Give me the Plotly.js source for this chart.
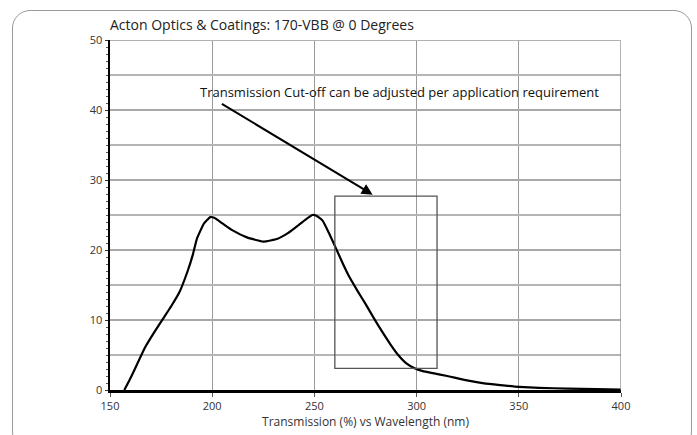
<!DOCTYPE html>
<html>
<head>
<meta charset="utf-8">
<script src="https://cdn.plot.ly/plotly-3.0.1.min.js"></script>
<style>
  html, body { margin: 0; padding: 0; background: #fff; }
  #wrap { position: relative; width: 697px; height: 435px; overflow: hidden; }
  #frame { position: absolute; left: 12px; top: 10px; width: 680px; height: 440px;
           border: 1.5px solid #9a9a9a; border-radius: 18px; box-sizing: border-box; }
  #chart { position: absolute; left: 0; top: 0; width: 697px; height: 435px; }
</style>
</head>
<body>
<div id="wrap">
  <div id="frame"></div>
  <div id="chart"></div>
</div>
<script>
// Transmission curve (nm, %)
const wavelength = [157, 159.5, 162, 167, 172, 176, 180, 184, 188, 190.5, 192.5, 196, 199, 201, 205, 210, 217, 225, 232, 237, 242, 246, 249, 251, 254, 257, 260.6, 264, 267, 271, 275, 279, 283, 287, 291, 295, 299, 303, 308, 315, 324, 333, 341, 350, 360, 374, 388, 400];
const transmission = [0, 1.4, 2.9, 6.0, 8.4, 10.2, 12.0, 14.0, 17.0, 19.3, 21.6, 23.8, 24.7, 24.6, 23.8, 22.8, 21.8, 21.2, 21.6, 22.4, 23.5, 24.4, 25.0, 24.9, 24.2, 22.5, 20.2, 18.0, 16.2, 14.2, 12.3, 10.3, 8.4, 6.6, 5.0, 3.8, 3.1, 2.7, 2.4, 2.0, 1.4, 0.95, 0.7, 0.45, 0.3, 0.2, 0.12, 0.05];

// Cut-off region box (nm, %)
const boxX = [260, 310];
const boxY = [3.1, 27.7];

// Arrow: tail and head (nm, %)
const arrowTail = [204, 41];
const arrowHead = [278.5, 27.9];
const noteAnchor = [193, 42.6];

const xTicks = [150, 200, 250, 300, 350, 400];
const yTicks = [0, 10, 20, 30, 40, 50];
const yHalfTicks = [5, 15, 25, 35, 45];

const titleText = 'Acton Optics &amp; Coatings: 170-VBB @ 0 Degrees';
const xTitle = 'Transmission (%) vs Wavelength (nm)';
const noteText = 'Transmission Cut-off can be adjusted per application requirement';

const FONT = 'Open Sans, sans-serif';

const traces = [
  {
    x: wavelength, y: transmission, type: 'scatter', mode: 'lines',
    line: {color: '#000', width: 2.2, shape: 'spline', smoothing: 0.4},
    hoverinfo: 'skip', showlegend: false
  },
  {
    // half-step grid carrier
    x: [null], y: [null], xaxis: 'x', yaxis: 'y2', type: 'scatter', mode: 'lines',
    hoverinfo: 'skip', showlegend: false
  }
];

const layout = {
  width: 697, height: 435,
  margin: {l: 110, r: 76, t: 40, b: 45},
  paper_bgcolor: 'rgba(0,0,0,0)',
  plot_bgcolor: 'rgba(0,0,0,0)',
  font: {family: FONT, size: 11, color: '#333'},
  showlegend: false,
  title: {
    text: titleText, font: {family: FONT, size: 14, color: '#222'},
    xref: 'paper', x: 0.0, xanchor: 'left',
    yref: 'container', y: 1 - 25 / 435, yanchor: 'middle'
  },
  xaxis: {
    range: [150, 400], tickvals: xTicks, ticktext: xTicks.map(String),
    showgrid: true, gridcolor: '#9a9a9a', gridwidth: 1.3,
    showline: true, linecolor: '#000', linewidth: 2.5,
    ticks: 'outside', ticklen: 4, tickcolor: '#555', tickwidth: 1,
    zeroline: false, fixedrange: true,
    tickfont: {family: FONT, size: 11, color: '#333'},
    title: {text: xTitle, font: {family: FONT, size: 12, color: '#333'}, standoff: 3}
  },
  yaxis: {
    range: [0, 50], tickvals: yTicks, ticktext: yTicks.map(String),
    showgrid: true, gridcolor: '#a8a8a8', gridwidth: 2.2,
    showline: true, linecolor: '#000', linewidth: 2.5,
    ticks: 'outside', ticklen: 3, tickcolor: '#333', tickwidth: 1,
    minor: {dtick: 1, ticks: 'outside', ticklen: 2, tickcolor: '#555', tickwidth: 1, showgrid: false},
    zeroline: false, fixedrange: true,
    tickfont: {family: FONT, size: 11, color: '#333'}
  },
  yaxis2: {
    range: [0, 50], overlaying: 'y', side: 'left', tickvals: yHalfTicks,
    showgrid: true, gridcolor: '#b5b5b5', gridwidth: 1.2,
    showticklabels: false, ticks: '', showline: false, zeroline: false, fixedrange: true
  },
  shapes: [
    {
      type: 'rect', xref: 'x', yref: 'y',
      x0: boxX[0], x1: boxX[1], y0: boxY[0], y1: boxY[1],
      line: {color: '#555', width: 1.3}, fillcolor: 'rgba(0,0,0,0)', layer: 'above'
    },
    {
      type: 'line', xref: 'x', yref: 'paper', x0: 400, x1: 400, y0: 0, y1: 1,
      line: {color: '#8a8a8a', width: 1.3}
    },
    {
      type: 'line', xref: 'paper', yref: 'y', x0: 0, x1: 1, y0: 50, y1: 50,
      line: {color: '#b0b0b0', width: 2}
    }
  ],
  annotations: [
    {
      xref: 'x', yref: 'y', axref: 'x', ayref: 'y',
      x: arrowHead[0], y: arrowHead[1], ax: arrowTail[0], ay: arrowTail[1],
      text: '', showarrow: true, arrowhead: 2, arrowsize: 1.1, arrowwidth: 2, arrowcolor: '#000'
    },
    {
      xref: 'x', yref: 'y', x: noteAnchor[0], y: noteAnchor[1],
      xanchor: 'left', yanchor: 'middle', showarrow: false,
      text: noteText, font: {family: FONT, size: 13, color: '#111'}
    }
  ]
};

Plotly.newPlot('chart', traces, layout, {staticPlot: true, displayModeBar: false});
</script>
</body>
</html>
